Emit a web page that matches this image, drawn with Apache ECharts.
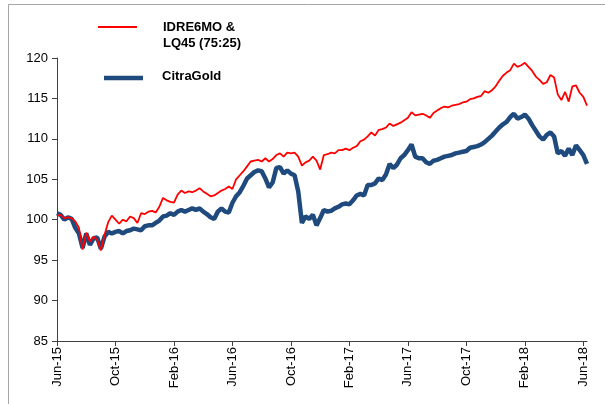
<!DOCTYPE html>
<html>
<head>
<meta charset="utf-8">
<script src="https://cdn.jsdelivr.net/npm/echarts@6/dist/echarts.min.js"></script>
<style>
  html, body { margin: 0; padding: 0; background: #fff; }
  #main { width: 605px; height: 404px; }
</style>
</head>
<body>
<div id="main"></div>
<script>
// tick labels every 4 months, data sampled every quarter month from Jun-15
var tickLabels = ['Jun-15', 'Oct-15', 'Feb-16', 'Jun-16', 'Oct-16', 'Feb-17', 'Jun-17', 'Oct-17', 'Feb-18', 'Jun-18'];
var tickMonths = [0, 4, 8, 12, 16, 20, 24, 28, 32, 36];
var stepMonths = 0.25;

var benchmark = [
    100.5, 100.6, 100.2, 100.3, 100.2, 99.8, 99.0, 96.3, 98.4, 97.3,
    97.9, 97.5, 96.2, 98.1, 99.7, 100.5, 100.0, 99.5, 100.0, 99.8,
    100.4, 100.2, 99.6, 100.8, 100.7, 101.0, 101.1, 100.9, 101.6, 102.7,
    102.4, 102.2, 102.1, 103.1, 103.6, 103.3, 103.5, 103.4, 103.6, 103.9,
    103.5, 103.2, 102.9, 103.0, 103.3, 103.6, 103.8, 104.1, 103.8, 105.0,
    105.5, 106.0, 106.6, 107.2, 107.3, 107.4, 107.2, 107.6, 107.2, 107.5,
    108.0, 108.2, 107.8, 108.3, 108.2, 108.3, 107.8, 106.7, 107.1, 107.3,
    107.8, 107.3, 106.2, 108.0, 108.1, 108.3, 108.2, 108.6, 108.6, 108.8,
    108.6, 108.9, 109.1, 109.7, 109.9, 110.3, 110.8, 110.4, 111.1, 111.2,
    111.4, 111.9, 111.6, 111.8, 112.0, 112.3, 112.6, 113.3, 112.9, 113.0,
    113.1, 112.9, 112.6, 113.2, 113.5, 113.8, 114.0, 113.9, 114.1, 114.2,
    114.3, 114.5, 114.6, 114.9, 115.0, 115.2, 115.3, 115.9, 115.7, 116.0,
    116.5, 117.2, 117.8, 118.2, 118.5, 119.3, 118.9, 119.1, 119.4, 118.9,
    118.4, 117.7, 117.3, 116.8, 117.0, 117.9, 117.6, 115.5, 114.8, 115.8,
    114.6, 116.5, 116.6, 115.7, 115.2, 114.1
];

var citraGold = [
    100.8, 100.6, 100.0, 100.3, 100.1, 99.0, 98.3, 96.5, 98.3, 96.9,
    97.7, 97.8, 96.4, 97.9, 98.5, 98.3, 98.5, 98.6, 98.3, 98.6,
    98.7, 98.9, 98.8, 98.7, 99.2, 99.3, 99.3, 99.6, 99.9, 100.4,
    100.5, 100.8, 100.6, 101.0, 101.2, 101.0, 101.2, 101.4, 101.2, 101.4,
    101.0, 100.7, 100.3, 100.1, 101.0, 101.4, 101.0, 100.9, 102.1, 102.9,
    103.4, 104.2, 105.1, 105.5, 105.9, 106.1, 106.0, 105.1, 104.0, 104.6,
    106.4, 106.5, 105.7, 106.1, 105.7, 105.5, 103.5, 99.6, 100.4, 100.1,
    100.6, 99.3, 100.2, 101.2, 101.0, 101.1, 101.4, 101.6, 101.9, 102.0,
    101.9, 102.4, 103.0, 103.2, 103.0, 104.3, 104.3, 104.5, 105.1, 104.9,
    105.6, 106.9, 106.4, 106.8, 107.6, 108.0, 108.6, 109.3, 107.8, 107.6,
    107.6, 107.1, 106.9, 107.3, 107.4, 107.6, 107.8, 107.9, 108.0, 108.2,
    108.3, 108.4, 108.5, 108.9, 109.0, 109.1, 109.3, 109.6, 110.0, 110.4,
    110.9, 111.4, 111.8, 112.1, 112.7, 113.1, 112.5, 112.7, 113.0, 112.5,
    111.7, 111.0, 110.3, 109.9, 110.5, 110.8, 110.3, 108.2, 108.5, 107.9,
    108.8, 108.0, 109.2, 108.6, 108.0, 106.9
];

var redColor = '#ff0000';
var blueColor = '#1f4a7e';
var font = '"Liberation Sans", Arial, sans-serif';

function toPoints(values) {
    return values.map(function (v, i) { return [i * stepMonths, v]; });
}

var myChart = echarts.init(document.getElementById('main'));

myChart.setOption({
    animation: false,
    backgroundColor: '#fff',
    grid: { left: 57, right: 18, top: 58, bottom: 63 },
    xAxis: {
        type: 'value',
        min: 0,
        max: (benchmark.length - 1) * stepMonths,
        splitLine: { show: false },
        axisLine: { show: true, lineStyle: { color: '#404040', width: 1 } },
        axisTick: { show: true, length: 5, customValues: tickMonths, lineStyle: { color: '#404040' } },
        axisLabel: {
            rotate: 90,
            margin: 6,
            fontSize: 13,
            color: '#000',
            fontFamily: font,
            customValues: tickMonths,
            formatter: function (v) { return tickLabels[Math.round(v / 4)]; }
        }
    },
    yAxis: {
        type: 'value',
        min: 85,
        max: 120,
        interval: 5,
        splitLine: { show: false },
        axisLine: { show: true, lineStyle: { color: '#404040', width: 1 } },
        axisTick: { show: true, length: 5, lineStyle: { color: '#404040' } },
        axisLabel: { fontSize: 13, color: '#000', fontFamily: font, margin: 9 }
    },
    series: [
        {
            name: 'CitraGold',
            type: 'line',
            showSymbol: false,
            data: toPoints(citraGold),
            lineStyle: { color: blueColor, width: 4.5 },
            itemStyle: { color: blueColor }
        },
        {
            name: 'IDRE6MO & LQ45 (75:25)',
            type: 'line',
            showSymbol: false,
            data: toPoints(benchmark),
            lineStyle: { color: redColor, width: 1.8 },
            itemStyle: { color: redColor }
        }
    ],
    graphic: [
        {
            type: 'rect',
            shape: { x: 8.5, y: 4.5, width: 700, height: 500 },
            style: { fill: 'none', stroke: '#a6a6a6', lineWidth: 1 },
            silent: true
        },
        {
            type: 'line',
            shape: { x1: 98, y1: 27, x2: 137, y2: 27 },
            style: { stroke: redColor, lineWidth: 1.8 }
        },
        {
            type: 'text',
            left: 163,
            top: 19,
            style: {
                text: 'IDRE6MO &\nLQ45 (75:25)',
                font: 'bold 13px ' + font,
                fill: '#000',
                lineHeight: 16
            }
        },
        {
            type: 'line',
            shape: { x1: 104, y1: 78, x2: 143, y2: 78 },
            style: { stroke: blueColor, lineWidth: 4.5 }
        },
        {
            type: 'text',
            left: 162,
            top: 70,
            style: {
                text: 'CitraGold',
                font: 'bold 13px ' + font,
                fill: '#000'
            }
        }
    ]
});
</script>
</body>
</html>
